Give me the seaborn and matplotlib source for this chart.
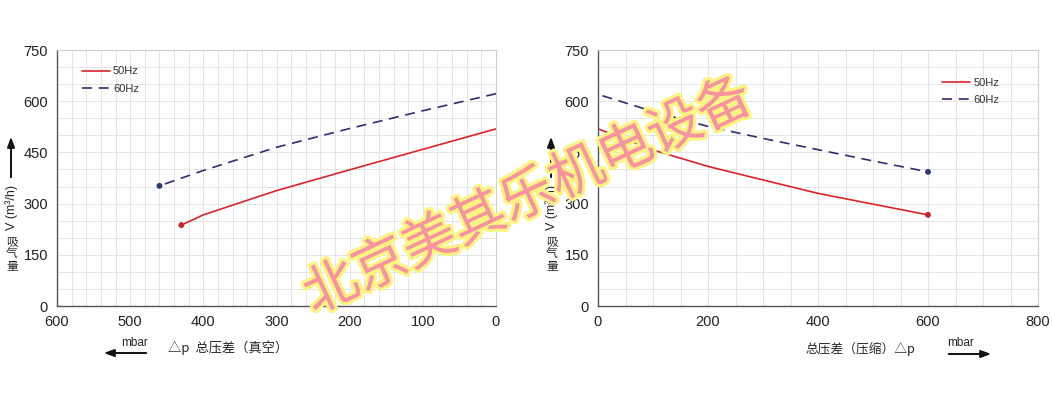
import numpy as np
import pandas as pd
import matplotlib
matplotlib.use("Agg")
import matplotlib.pyplot as plt
import matplotlib.patheffects as pe
from matplotlib.ticker import MultipleLocator
import seaborn as sns

# vacuum side (left chart), delta p in mbar
vac_dp_50 = [430, 415, 400, 300, 200, 100, 0]
vac_v_50 = [237, 252, 267, 338, 399, 459, 519]
vac_dp_60 = [460, 400, 300, 200, 100, 0]
vac_v_60 = [352, 397, 465, 520, 572, 622]

# pressure side (right chart)
pre_dp_50 = [0, 100, 200, 250, 400, 600]
pre_v_50 = [519, 457, 409, 389, 330, 267]
pre_dp_60 = [8, 100, 200, 300, 400, 500, 600]
pre_v_60 = [616, 570, 526, 491, 458, 425, 393]

series_names = ["50Hz", "60Hz"]
y_ticks = [0, 150, 300, 450, 600, 750]
watermark = "北京美其乐机电设备"

RED = "#d8242b"
NAVY = "#2a3070"
W, H = 1052, 397
CJK = ['Noto Sans CJK SC', 'DejaVu Sans']

sns.set_style("white")
plt.rcParams['font.family'] = ['Liberation Sans', 'Noto Sans CJK SC', 'DejaVu Sans']

fig = plt.figure(figsize=(W / 100, H / 100), dpi=100)


def px_axes(x0, y0, x1, y1):
  return fig.add_axes([x0 / W, 1 - y1 / H, (x1 - x0) / W, (y1 - y0) / H])


def style_axes(ax, xminor):
  ax.set_ylim(0, 750)
  ax.set_yticks(y_ticks)
  ax.yaxis.set_minor_locator(MultipleLocator(50))
  ax.xaxis.set_minor_locator(MultipleLocator(xminor))
  ax.grid(which="both", color="#e1e1e1", lw=0.6)
  ax.set_axisbelow(True)
  for s in ["top", "right"]:
    ax.spines[s].set_color("#cfcfcf")
    ax.spines[s].set_linewidth(0.8)
  for s in ["left", "bottom"]:
    ax.spines[s].set_color("#555555")
    ax.spines[s].set_linewidth(1.0)
  ax.tick_params(which="major", direction="inout", length=6, width=0.8,
                 color="#555555", labelsize=10.5, labelcolor="#222222")
  ax.tick_params(which="minor", length=0)
  ax.set_xlabel("")
  ax.set_ylabel("")


def draw(ax, dp50, v50, dp60, v60, end):
  d50 = pd.DataFrame({"dp": dp50, "v": v50})
  d60 = pd.DataFrame({"dp": dp60, "v": v60})
  sns.lineplot(data=d50, x="dp", y="v", ax=ax, color=RED, lw=1.2,
               label=series_names[0])
  sns.lineplot(data=d60, x="dp", y="v", ax=ax, color=NAVY, lw=1.2,
               linestyle=(0, (6, 4)), label=series_names[1])
  sns.scatterplot(x=[d50["dp"].iloc[end]], y=[d50["v"].iloc[end]], ax=ax,
                  color="#c0272d", s=18, edgecolor="none", zorder=5)
  sns.scatterplot(x=[d60["dp"].iloc[end]], y=[d60["v"].iloc[end]], ax=ax,
                  color="#2b3a78", s=18, edgecolor="none", zorder=5)


def legend(ax, x, y):
  leg = ax.legend(loc="upper left", bbox_to_anchor=(x, y), frameon=False,
                  fontsize=8, handlelength=2.5, handletextpad=0.3,
                  labelspacing=0.65)
  for t in leg.get_texts():
    t.set_color("#333333")


# left chart
ax1 = px_axes(57, 50, 496, 306)
draw(ax1, vac_dp_50, vac_v_50, vac_dp_60, vac_v_60, 0)
ax1.set_xlim(600, 0)
ax1.set_xticks([600, 500, 400, 300, 200, 100, 0])
style_axes(ax1, 20)
legend(ax1, 0.034, 0.975)

# right chart
ax2 = px_axes(598, 50, 1038, 306)
draw(ax2, pre_dp_50, pre_v_50, pre_dp_60, pre_v_60, -1)
ax2.set_xlim(0, 800)
ax2.set_xticks([0, 200, 400, 600, 800])
style_axes(ax2, 50)
legend(ax2, 0.76, 0.93)


def ftext(x, y, s, **kw):
  fig.text(x / W, 1 - y / H, s, **kw)


def farrow(x0, y0, x1, y1):
  fig.add_artist(matplotlib.patches.FancyArrowPatch(
    (x0 / W, 1 - y0 / H), (x1 / W, 1 - y1 / H), transform=fig.transFigure,
    arrowstyle="-|>,head_length=6,head_width=2.2", color="#111111", lw=1.4))


# x axis captions
ftext(135, 346, "mbar", ha="center", va="baseline", fontsize=8.5)
farrow(149, 353, 101, 353)
ftext(168, 348, "△p  总压差（真空）", ha="left", va="center", fontsize=9.5,
      family=CJK)
ftext(915, 349, "总压差（压缩）△p", ha="right", va="center", fontsize=9.2,
      family=CJK)
ftext(961, 346, "mbar", ha="center", va="baseline", fontsize=8.5)
farrow(946, 354, 994, 354)

# y axis captions
for yx in [12, 552]:
  ftext(yx, 207, "V (m³/h)", ha="center", va="center", rotation=90, fontsize=9)
  ftext(yx, 254, "吸\n气\n量", ha="center", va="center", fontsize=8.5,
        linespacing=0.95, family=CJK)
  farrow(yx - 1, 180, yx - 1, 134)

# watermark
fig.text(528 / W, 1 - 197 / H, watermark, ha="center", va="center",
         rotation=25, rotation_mode="anchor", fontsize=39, color="#f6939e",
         family=CJK, fontweight="light", zorder=20,
         path_effects=[pe.withStroke(linewidth=4.5, foreground="#fcf385")])

fig.savefig("out.png", dpi=100)
